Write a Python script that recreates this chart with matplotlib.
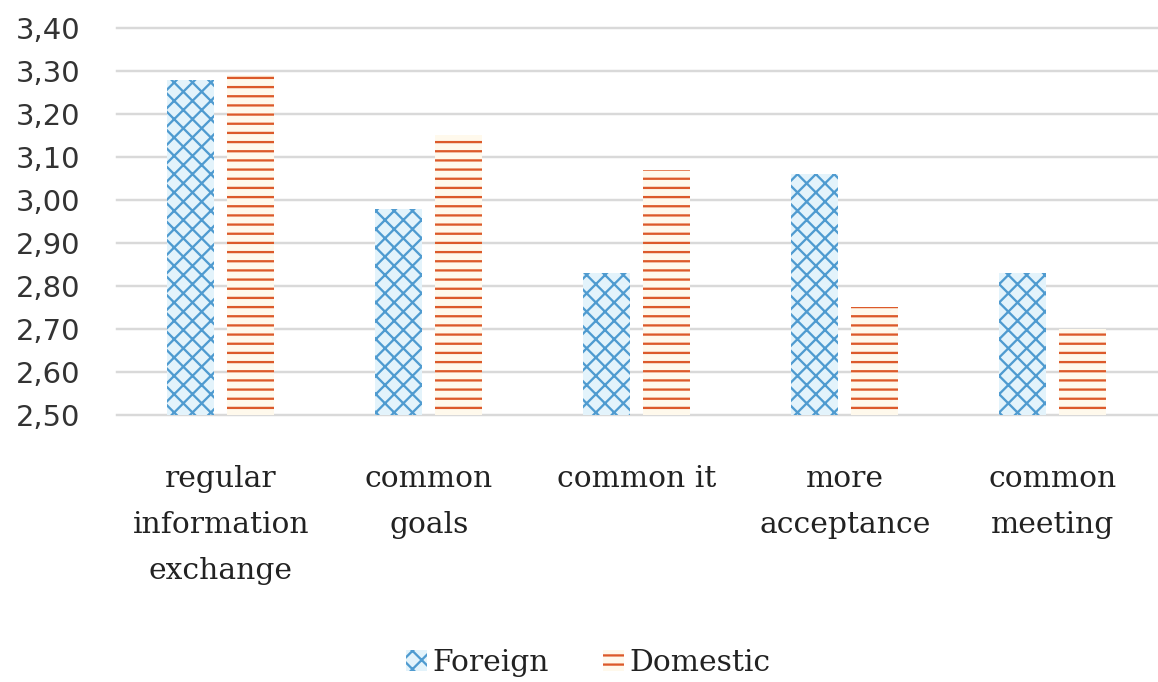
import numpy as np
import matplotlib
matplotlib.use('Agg')
import matplotlib.pyplot as plt
from matplotlib.ticker import FuncFormatter, MultipleLocator

categories = ['regular\ninformation\nexchange', 'common\ngoals', 'common it',
              'more\nacceptance', 'common\nmeeting']
foreign = [3.28, 2.98, 2.83, 3.06, 2.83]
domestic = [3.29, 3.15, 3.07, 2.75, 2.70]

DPI = 110
plt.rcParams['hatch.linewidth'] = 1.5

fig = plt.figure(figsize=(1158 / DPI, 682 / DPI), dpi=DPI)
ax = fig.add_axes([0.101, 0.3915, 0.898, 0.5675])

x = np.arange(len(categories))
w = 0.226
off = 0.144

ax.bar(x - off, np.array(foreign) - 2.5, w, bottom=2.5, color='#e3f3fb',
       edgecolor='#4f9bd0', linewidth=0, hatch='xx', label='Foreign', zorder=3)
ax.bar(x + off, np.array(domestic) - 2.5, w, bottom=2.5, color='#fff9ec',
       edgecolor='#dc5a2a', linewidth=0, hatch='--', label='Domestic', zorder=3)

ax.set_xlim(-0.5, len(categories) - 0.5)
ax.set_ylim(2.5, 3.4)
ax.yaxis.set_major_locator(MultipleLocator(0.1))
ax.yaxis.set_major_formatter(FuncFormatter(lambda v, p: f'{v:.2f}'.replace('.', ',')))
ax.grid(axis='y', color='#d9d9d9', linewidth=1.6, zorder=0)
for gl in ax.get_ygridlines():
    gl.set_clip_on(False)
ax.set_axisbelow(True)
for s in ax.spines.values():
    s.set_visible(False)

ax.set_xticks(x)
ax.set_xticklabels(categories, family='DejaVu Serif', fontsize=19.5,
                   linespacing=1.8, color='#222222')
ax.tick_params(axis='x', length=0, pad=33)
ax.tick_params(axis='y', length=0, pad=24, labelsize=19, labelcolor='#333333')

fig.legend(loc='center', bbox_to_anchor=(0.508, 0.028), ncol=2, frameon=False,
           prop={'family': 'DejaVu Serif', 'size': 19.5},
           handlelength=0.7, handleheight=0.7, handletextpad=0.2,
           columnspacing=1.8, labelcolor='#222222')

fig.savefig('out.png', dpi=DPI)
